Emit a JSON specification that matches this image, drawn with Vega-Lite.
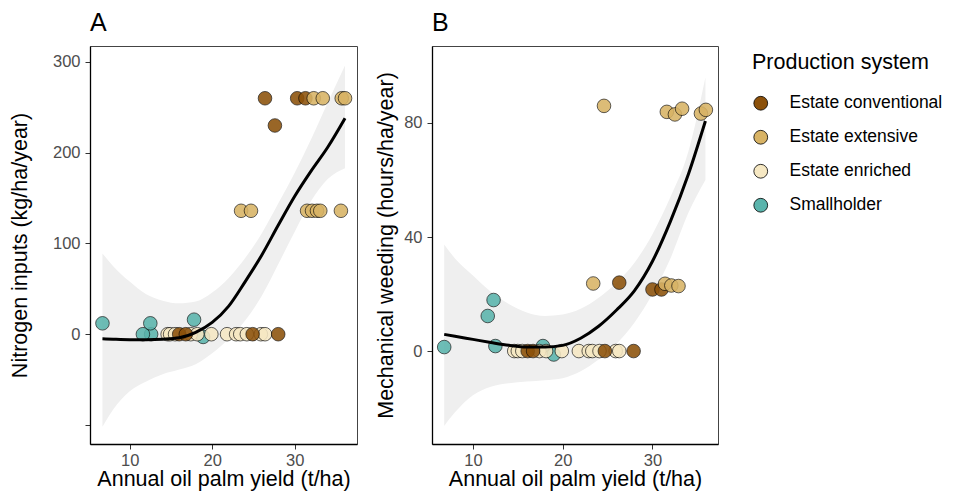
{
  "$schema": "https://vega.github.io/schema/vega-lite/v6.json",
  "background": "white",
  "padding": {"left": 8, "top": 10, "right": 0, "bottom": 0},
  "config": {
    "font": "Liberation Sans",
    "view": {"stroke": "#444444", "strokeWidth": 1},
    "axis": {
      "grid": false,
      "domainColor": "black",
      "domainWidth": 1.3,
      "tickColor": "#333333",
      "tickSize": 5,
      "tickWidth": 1,
      "labelColor": "#4d4d4d",
      "labelFontSize": 16.5,
      "labelPadding": 5,
      "titleColor": "black",
      "titleFontSize": 21.5,
      "titleFontWeight": "normal",
      "titlePadding": 4
    },
    "axisX": {"labelPadding": 3, "titlePadding": 0},
    "legend": {
      "titleFontSize": 21.5,
      "titleFontWeight": "normal",
      "titleColor": "black",
      "titlePadding": 21,
      "labelFontSize": 17.5,
      "labelColor": "black",
      "labelOffset": 20,
      "rowPadding": 15,
      "offset": 27,
      "padding": 6,
      "symbolType": "circle",
      "symbolSize": 190,
      "symbolStrokeColor": "black",
      "symbolStrokeWidth": 0.8,
      "symbolOpacity": 1
    },
    "title": {"fontSize": 25, "fontWeight": "normal", "color": "black", "anchor": "start", "frame": "group", "offset": 10},
    "concat": {"spacing": 17}
  },
  "datasets": {
    "nitrogen": [
      {"yield": 6.7, "value": 12, "system": "Smallholder"},
      {"yield": 12.6, "value": 0, "system": "Smallholder"},
      {"yield": 11.6, "value": 0, "system": "Smallholder"},
      {"yield": 12.5, "value": 12, "system": "Smallholder"},
      {"yield": 17.8, "value": 16, "system": "Smallholder"},
      {"yield": 18.9, "value": -3, "system": "Smallholder"},
      {"yield": 14.6, "value": 0, "system": "Estate enriched"},
      {"yield": 14.9, "value": 0, "system": "Estate enriched"},
      {"yield": 15.5, "value": 0, "system": "Estate enriched"},
      {"yield": 17.4, "value": 0, "system": "Estate enriched"},
      {"yield": 18.2, "value": 0, "system": "Estate enriched"},
      {"yield": 19.9, "value": 0, "system": "Estate enriched"},
      {"yield": 21.8, "value": 0, "system": "Estate enriched"},
      {"yield": 22.9, "value": 0, "system": "Estate enriched"},
      {"yield": 23.4, "value": 0, "system": "Estate enriched"},
      {"yield": 24.2, "value": 0, "system": "Estate enriched"},
      {"yield": 25.9, "value": 0, "system": "Estate enriched"},
      {"yield": 26.4, "value": 0, "system": "Estate enriched"},
      {"yield": 16.0, "value": 0, "system": "Estate conventional"},
      {"yield": 16.8, "value": 0, "system": "Estate conventional"},
      {"yield": 24.9, "value": 0, "system": "Estate conventional"},
      {"yield": 28.0, "value": 0, "system": "Estate conventional"},
      {"yield": 26.4, "value": 260, "system": "Estate conventional"},
      {"yield": 27.6, "value": 230, "system": "Estate conventional"},
      {"yield": 30.3, "value": 260, "system": "Estate conventional"},
      {"yield": 31.3, "value": 260, "system": "Estate conventional"},
      {"yield": 32.3, "value": 260, "system": "Estate extensive"},
      {"yield": 33.4, "value": 260, "system": "Estate extensive"},
      {"yield": 35.7, "value": 260, "system": "Estate extensive"},
      {"yield": 36.1, "value": 260, "system": "Estate extensive"},
      {"yield": 23.5, "value": 136, "system": "Estate extensive"},
      {"yield": 24.7, "value": 136, "system": "Estate extensive"},
      {"yield": 31.5, "value": 136, "system": "Estate extensive"},
      {"yield": 32.1, "value": 136, "system": "Estate extensive"},
      {"yield": 32.7, "value": 136, "system": "Estate extensive"},
      {"yield": 33.1, "value": 136, "system": "Estate extensive"},
      {"yield": 35.6, "value": 136, "system": "Estate extensive"}
    ],
    "weeding": [
      {"yield": 6.8, "value": 1.4, "system": "Smallholder"},
      {"yield": 11.65, "value": 12.3, "system": "Smallholder"},
      {"yield": 12.3, "value": 17.9, "system": "Smallholder"},
      {"yield": 12.5, "value": 1.75, "system": "Smallholder"},
      {"yield": 17.8, "value": 1.75, "system": "Smallholder"},
      {"yield": 19.0, "value": -1.2, "system": "Smallholder"},
      {"yield": 14.6, "value": 0, "system": "Estate enriched"},
      {"yield": 15.0, "value": 0, "system": "Estate enriched"},
      {"yield": 15.5, "value": 0, "system": "Estate enriched"},
      {"yield": 17.4, "value": 0, "system": "Estate enriched"},
      {"yield": 18.15, "value": 0, "system": "Estate enriched"},
      {"yield": 19.9, "value": 0, "system": "Estate enriched"},
      {"yield": 21.8, "value": 0, "system": "Estate enriched"},
      {"yield": 22.9, "value": 0, "system": "Estate enriched"},
      {"yield": 23.3, "value": 0, "system": "Estate enriched"},
      {"yield": 24.1, "value": 0, "system": "Estate enriched"},
      {"yield": 25.9, "value": 0, "system": "Estate enriched"},
      {"yield": 26.3, "value": 0, "system": "Estate enriched"},
      {"yield": 16.1, "value": 0, "system": "Estate conventional"},
      {"yield": 16.7, "value": 0, "system": "Estate conventional"},
      {"yield": 24.7, "value": 0, "system": "Estate conventional"},
      {"yield": 27.9, "value": 0, "system": "Estate conventional"},
      {"yield": 26.3, "value": 24, "system": "Estate conventional"},
      {"yield": 30.0, "value": 21.6, "system": "Estate conventional"},
      {"yield": 31.0, "value": 21.6, "system": "Estate conventional"},
      {"yield": 24.6, "value": 86, "system": "Estate extensive"},
      {"yield": 31.6, "value": 83.9, "system": "Estate extensive"},
      {"yield": 32.5, "value": 83, "system": "Estate extensive"},
      {"yield": 33.3, "value": 85, "system": "Estate extensive"},
      {"yield": 35.4, "value": 83.3, "system": "Estate extensive"},
      {"yield": 35.95, "value": 84.6, "system": "Estate extensive"},
      {"yield": 23.4, "value": 23.7, "system": "Estate extensive"},
      {"yield": 31.4, "value": 23.6, "system": "Estate extensive"},
      {"yield": 32.1, "value": 23, "system": "Estate extensive"},
      {"yield": 32.9, "value": 22.8, "system": "Estate extensive"}
    ],
    "nitrogen_fit": [
      {"yield": 6.7, "fit": -5, "lo": -102, "hi": 89},
      {"yield": 8, "fit": -5.5, "lo": -83, "hi": 75},
      {"yield": 10, "fit": -6, "lo": -63, "hi": 58},
      {"yield": 12, "fit": -6, "lo": -52, "hi": 44},
      {"yield": 14, "fit": -5.5, "lo": -44, "hi": 37},
      {"yield": 16, "fit": -4, "lo": -39, "hi": 34},
      {"yield": 18, "fit": 2, "lo": -33, "hi": 36},
      {"yield": 20, "fit": 13, "lo": -21, "hi": 46},
      {"yield": 22, "fit": 31, "lo": -5, "hi": 62},
      {"yield": 24, "fit": 58, "lo": 15, "hi": 84},
      {"yield": 26, "fit": 87, "lo": 42, "hi": 111},
      {"yield": 28, "fit": 120, "lo": 77, "hi": 144},
      {"yield": 30, "fit": 152, "lo": 113, "hi": 178},
      {"yield": 32, "fit": 180, "lo": 147, "hi": 215},
      {"yield": 34, "fit": 206, "lo": 171, "hi": 255},
      {"yield": 36.1, "fit": 238, "lo": 183, "hi": 296}
    ],
    "weeding_fit": [
      {"yield": 6.8, "fit": 5.85, "lo": -26.3, "hi": 37.4},
      {"yield": 8, "fit": 5.2, "lo": -21.5, "hi": 32.5},
      {"yield": 10, "fit": 4.1, "lo": -15.5, "hi": 26.5},
      {"yield": 12, "fit": 3.0, "lo": -12.5, "hi": 20.8},
      {"yield": 14, "fit": 2.0, "lo": -11.3, "hi": 16.5},
      {"yield": 16, "fit": 1.4, "lo": -10.7, "hi": 13.5},
      {"yield": 18, "fit": 1.4, "lo": -10.2, "hi": 12.3},
      {"yield": 20, "fit": 2.0, "lo": -9.5, "hi": 12.8},
      {"yield": 22, "fit": 4.5, "lo": -7.1, "hi": 14.8},
      {"yield": 24, "fit": 8.7, "lo": -3, "hi": 18.7},
      {"yield": 26, "fit": 14.4, "lo": 2.5, "hi": 24},
      {"yield": 28, "fit": 21.2, "lo": 10, "hi": 31},
      {"yield": 30, "fit": 31.5, "lo": 20, "hi": 41},
      {"yield": 32, "fit": 45.5, "lo": 32.5, "hi": 54},
      {"yield": 34, "fit": 62, "lo": 48.5, "hi": 70},
      {"yield": 35.9, "fit": 80.7, "lo": 60, "hi": 96}
    ]
  },
  "hconcat": [
    {
      "width": 267,
      "height": 398,
      "title": {"text": "A"},
      "encoding": {
        "x": {
          "field": "yield",
          "type": "quantitative",
          "scale": {"domain": [5.19, 37.55], "nice": false, "zero": false},
          "axis": {"values": [10, 20, 30], "title": "Annual oil palm yield (t/ha)"}
        }
      },
      "layer": [
        {
          "data": {"name": "nitrogen_fit"},
          "mark": {"type": "area", "color": "#efefef", "interpolate": "monotone"},
          "encoding": {
            "y": {
              "field": "lo",
              "type": "quantitative",
              "scale": {"domain": [-121, 317.6], "nice": false, "zero": false},
              "axis": {"values": [-100, 0, 100, 200, 300], "labelExpr": "datum.value < 0 ? '' : datum.label", "title": "Nitrogen inputs (kg/ha/year)", "titlePadding": 21}
            },
            "y2": {"field": "hi"}
          }
        },
        {
          "data": {"name": "nitrogen"},
          "mark": {"type": "circle", "size": 185, "stroke": "black", "strokeWidth": 0.7, "opacity": 0.88},
          "encoding": {
            "y": {"field": "value", "type": "quantitative"},
            "fill": {
              "field": "system",
              "type": "nominal",
              "title": "Production system",
              "scale": {
                "domain": ["Estate conventional", "Estate extensive", "Estate enriched", "Smallholder"],
                "range": ["#8c510a", "#d8b365", "#f6e8c3", "#5ab4ac"]
              }
            }
          }
        },
        {
          "data": {"name": "nitrogen_fit"},
          "mark": {"type": "line", "color": "black", "strokeWidth": 3, "interpolate": "monotone"},
          "encoding": {"y": {"field": "fit", "type": "quantitative"}}
        }
      ]
    },
    {
      "width": 286,
      "height": 398,
      "title": {"text": "B"},
      "encoding": {
        "x": {
          "field": "yield",
          "type": "quantitative",
          "scale": {"domain": [5.44, 37.3], "nice": false, "zero": false},
          "axis": {"values": [10, 20, 30], "title": "Annual oil palm yield (t/ha)"}
        }
      },
      "layer": [
        {
          "data": {"name": "weeding_fit"},
          "mark": {"type": "area", "color": "#efefef", "interpolate": "monotone"},
          "encoding": {
            "y": {
              "field": "lo",
              "type": "quantitative",
              "scale": {"domain": [-32.6, 107], "nice": false, "zero": false},
              "axis": {"values": [0, 40, 80], "title": "Mechanical weeding (hours/ha/year)", "titlePadding": 6}
            },
            "y2": {"field": "hi"}
          }
        },
        {
          "data": {"name": "weeding"},
          "mark": {"type": "circle", "size": 185, "stroke": "black", "strokeWidth": 0.7, "opacity": 0.88},
          "encoding": {
            "y": {"field": "value", "type": "quantitative"},
            "fill": {
              "field": "system",
              "type": "nominal",
              "title": "Production system",
              "scale": {
                "domain": ["Estate conventional", "Estate extensive", "Estate enriched", "Smallholder"],
                "range": ["#8c510a", "#d8b365", "#f6e8c3", "#5ab4ac"]
              }
            }
          }
        },
        {
          "data": {"name": "weeding_fit"},
          "mark": {"type": "line", "color": "black", "strokeWidth": 3, "interpolate": "monotone"},
          "encoding": {"y": {"field": "fit", "type": "quantitative"}}
        }
      ]
    }
  ]
}
